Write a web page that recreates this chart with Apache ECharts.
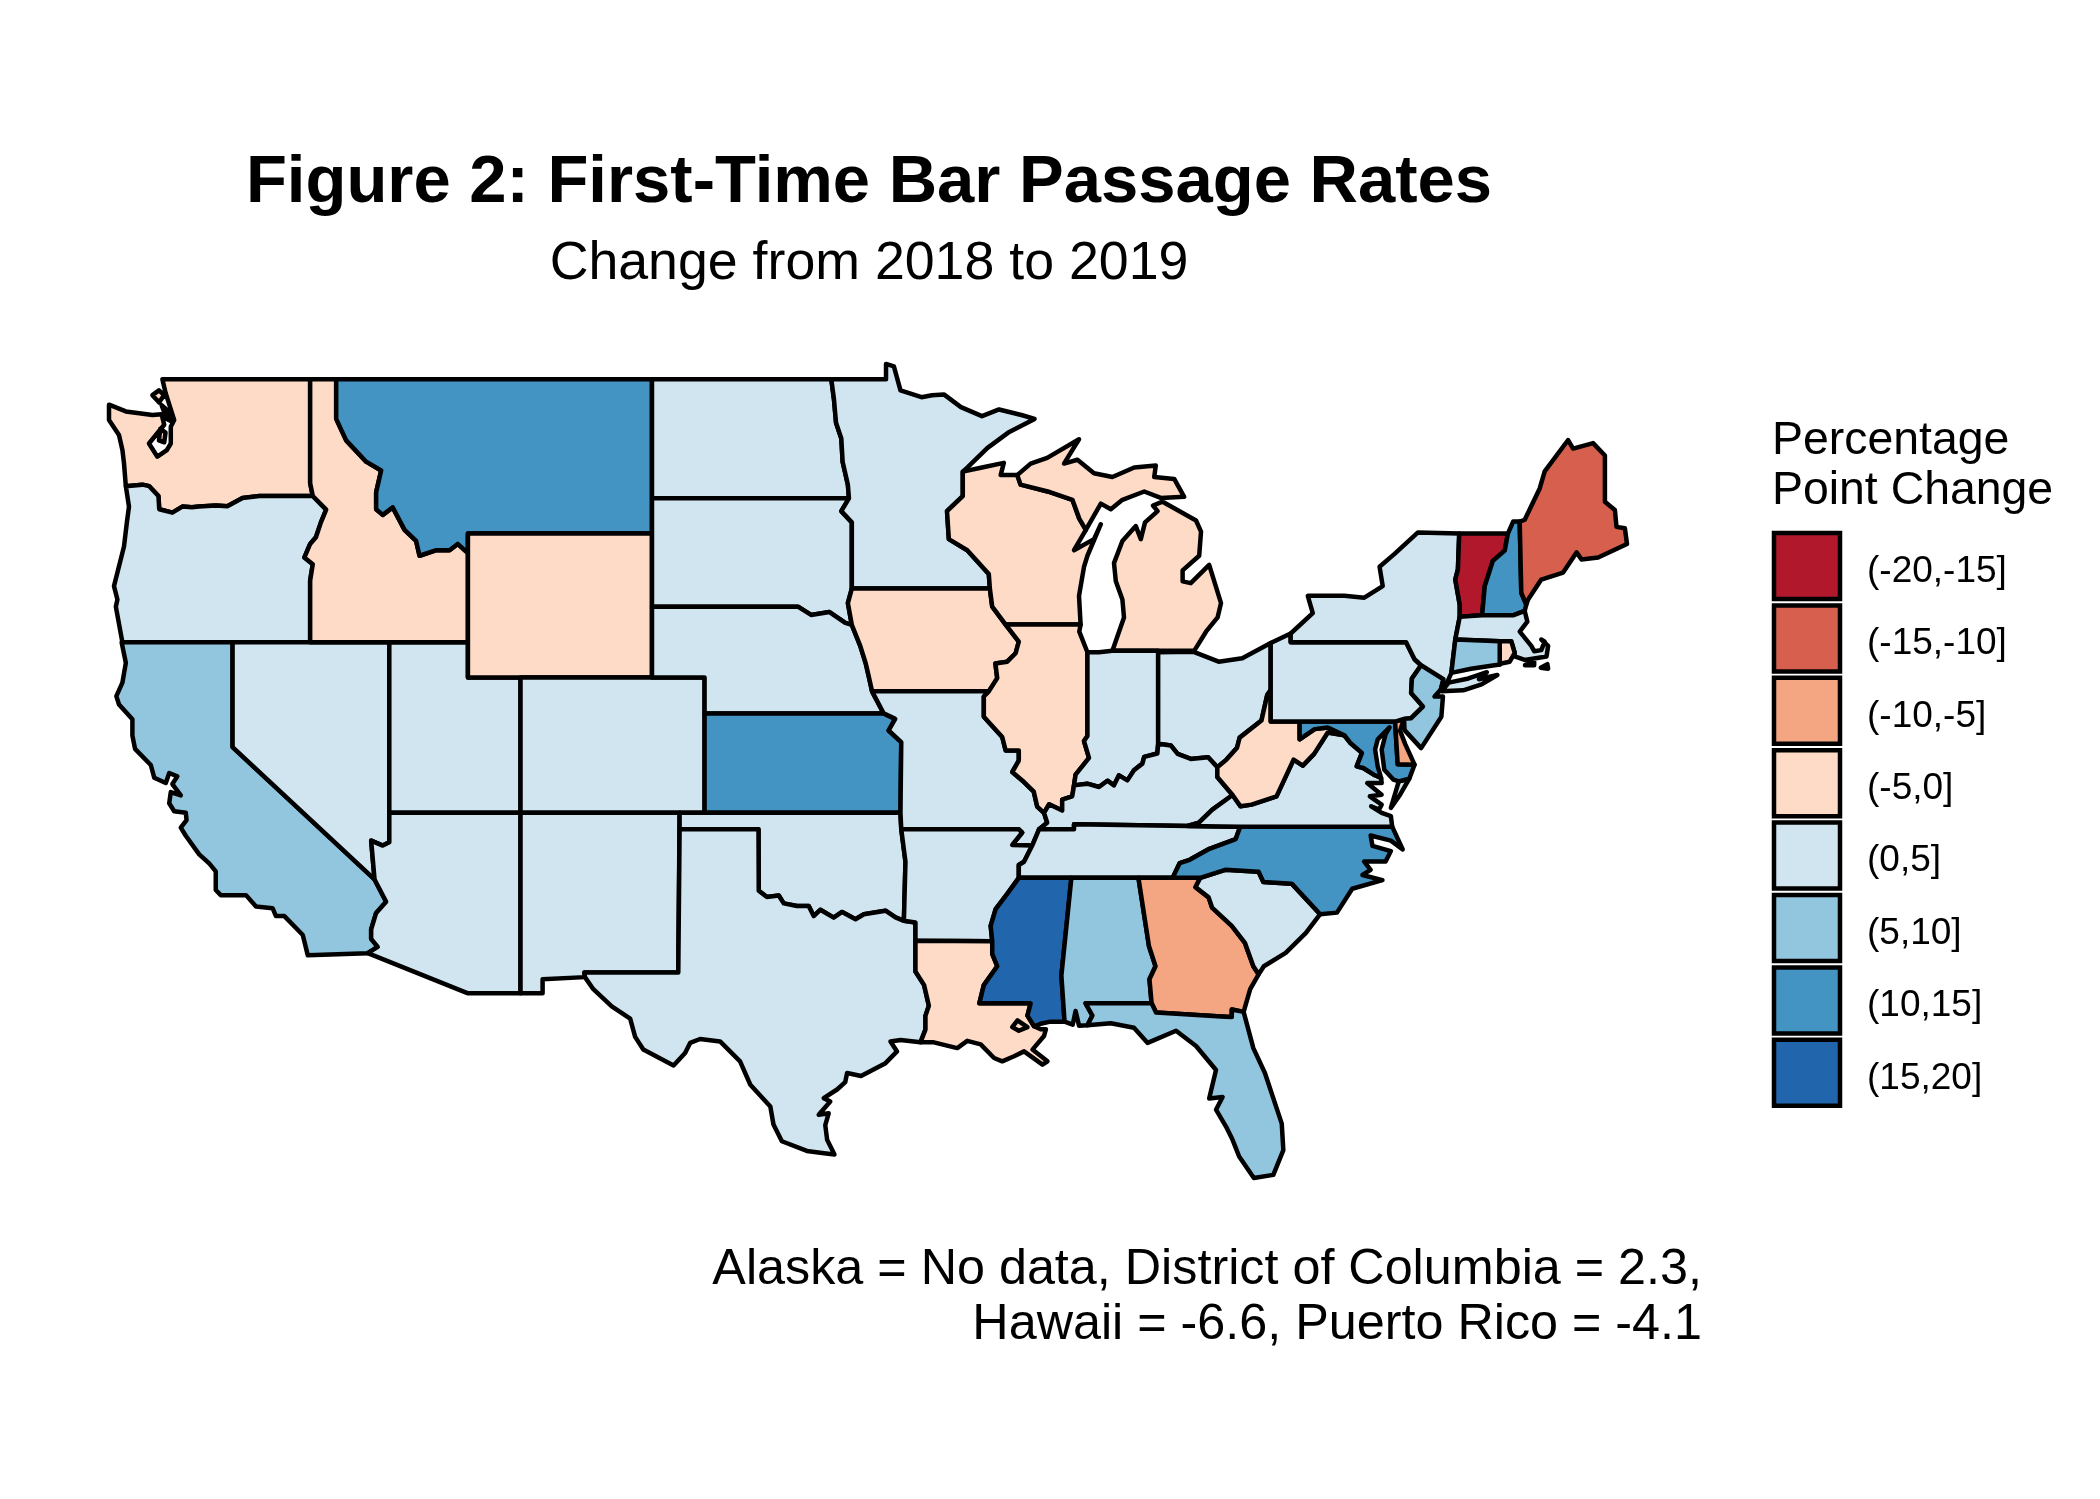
<!DOCTYPE html>
<html>
<head>
<meta charset="utf-8">
<title>First-Time Bar Passage Rates</title>
<script src="https://cdn.jsdelivr.net/npm/echarts@6/dist/echarts.min.js"></script>
<style>
  html, body { margin: 0; padding: 0; background: #fff; }
  #chart { width: 2100px; height: 1499px; }
</style>
</head>
<body>
<div id="chart"></div>
<script>
// bins, top to bottom of the legend
const binBreaks = [-20, -15, -10, -5, 0, 5, 10, 15, 20];
const binLabels = ['(-20,-15]', '(-15,-10]', '(-10,-5]', '(-5,0]', '(0,5]', '(5,10]', '(10,15]', '(15,20]'];
const binColors = ['#B2182B', '#D6604D', '#F4A582', '#FDDBC7', '#D1E5F0', '#92C5DE', '#4393C3', '#2166AC'];

const minus17 = ['Vermont'];
const minus12 = ['Maine'];
const minus7 = ['Georgia', 'Delaware'];
const minus2 = ['Washington', 'Idaho', 'Wyoming', 'Iowa', 'Wisconsin', 'Illinois', 'Michigan', 'Louisiana', 'West Virginia', 'Rhode Island'];
const plus2 = ['Oregon', 'Nevada', 'Utah', 'Colorado', 'Arizona', 'New Mexico', 'North Dakota', 'South Dakota', 'Nebraska', 'Oklahoma', 'Texas', 'Minnesota', 'Missouri', 'Arkansas', 'Indiana', 'Ohio', 'Kentucky', 'Tennessee', 'South Carolina', 'Virginia', 'Pennsylvania', 'New York', 'Massachusetts'];
const plus7 = ['California', 'Alabama', 'Florida', 'New Jersey', 'Connecticut'];
const plus12 = ['Montana', 'Kansas', 'North Carolina', 'Maryland', 'New Hampshire'];
const plus17 = ['Mississippi'];

const r = a => a.slice().reverse();

// shared borders, lon/lat
const snake = [[-117.05,46.34],[-116.95,46],[-116.44,45.64],[-116.64,45.3],[-116.83,44.9],[-117.05,44.72],[-117.27,44.35],[-116.95,44.17],[-117.05,43.72],[-117.05,42]];
const columbia = [[-116.95,46],[-118.98,46],[-119.62,45.95],[-120.2,45.73],[-120.63,45.75],[-121.27,45.72],[-121.55,45.7],[-121.91,45.72],[-122.29,45.56],[-122.79,45.65],[-122.82,46],[-123.17,46.26],[-123.43,46.3],[-124.06,46.26]];
const bitterroot = [[-116.06,48],[-115.68,47.45],[-114.92,46.9],[-114.35,46.67],[-114.54,46.1],[-114.54,45.65],[-114.29,45.5],[-113.91,45.7],[-113.46,45.1],[-113.02,44.8],[-112.89,44.4],[-112.25,44.55],[-111.75,44.55],[-111.44,44.72],[-111.05,44.47]];
const colorado = [[-114.6,34.95],[-114.16,34.25],[-114.54,33.9],[-114.73,33.38],[-114.73,33.08],[-114.48,32.82],[-114.86,32.62]];
const redRiver = [[-99.99,34.6],[-99.68,34.4],[-99.23,34.45],[-99.04,34.2],[-98.54,34.12],[-98.09,34.12],[-97.9,33.8],[-97.65,34],[-97.14,33.75],[-96.82,33.93],[-96.31,33.7],[-95.99,33.86],[-95.17,33.97],[-94.79,33.76],[-94.47,33.65]];
const ndMn = [[-97.23,49],[-97.13,48.5],[-97.05,47.9],[-96.85,47.5],[-96.8,46.9],[-96.6,46.3],[-96.56,45.94]];
const sdMn = [[-96.56,45.94],[-96.85,45.6],[-96.45,45.3],[-96.45,43.5]];
const sdIa = [[-96.45,43.5],[-96.6,43.1],[-96.45,42.49]];
const sdNe = [[-104.05,43],[-98.5,43],[-98,42.77],[-97.3,42.85],[-96.7,42.55],[-96.45,42.49]];
const neIa = [[-96.45,42.49],[-96.13,41.9],[-95.92,41.4],[-95.81,41.04],[-95.68,40.6]];
const neMo = [[-95.68,40.6],[-95.24,39.96]];
const ksMo = [[-95.24,39.96],[-94.8,39.8],[-95.05,39.46],[-94.57,39.12],[-94.6,37]];
const mnWi = [[-92.23,46],[-92.83,45.6],[-92.76,44.85],[-92.06,44.55],[-91.24,43.9],[-91.2,43.5]];
const iaWi = [[-91.2,43.5],[-91.11,43],[-90.6,42.5]];
const iaIl = [[-90.6,42.5],[-90.1,42.02],[-90.22,41.69],[-90.54,41.45],[-90.99,41.4],[-90.92,40.98],[-91.24,40.6],[-91.43,40.45]];
const moIl = [[-91.43,40.45],[-91.43,39.86],[-90.73,39.27],[-90.6,38.87],[-90.1,38.87],[-90.1,38.57],[-90.35,38.23],[-89.9,37.93],[-89.53,37.64],[-89.4,37.19],[-89.14,37]];
const moKy = [[-89.14,37],[-89.02,36.7],[-89.33,36.5]];
const moTn = [[-89.33,36.5],[-89.59,36]];
const moAr = [[-89.59,36],[-90.35,36.02],[-89.97,36.4],[-90.1,36.5],[-94.57,36.5]];
const arTn = [[-89.59,36],[-89.9,35.5],[-90.1,35.4],[-90.1,35]];
const arMs = [[-90.1,35],[-90.54,34.5],[-90.98,34.02],[-91.17,33.49],[-91.11,33]];
const laMs = [[-91.11,33],[-91.11,32.6],[-90.92,32.2],[-91.43,31.59],[-91.6,31],[-89.65,31],[-89.77,30.6],[-89.52,30.25]];
const ilKy = [[-89.14,37],[-88.95,37.26],[-88.45,37.07],[-88.45,37.4],[-88.07,37.5],[-88,37.83]];
const inKy = [[-88,37.83],[-87.5,37.88],[-87.05,37.78],[-86.73,37.97],[-86.48,37.83],[-86.29,38.13],[-85.97,37.98],[-85.72,38.28],[-85.4,38.48],[-85.33,38.68],[-84.83,38.78],[-84.8,39.07]];
const ohKy = [[-84.8,39.07],[-84.32,39.02],[-84.06,38.77],[-83.56,38.62],[-82.9,38.67],[-82.55,38.37]];
const ohWv = [[-82.55,38.37],[-82.2,38.6],[-81.8,38.95],[-81.7,39.25],[-80.87,39.75],[-80.65,40.5],[-80.52,40.64]];
const kyWv = [[-82.55,38.37],[-82.55,38.08],[-81.97,37.54]];
const kyVa = [[-81.97,37.54],[-82.75,37.09],[-83.25,36.7],[-83.68,36.6]];
const kyTn = [[-83.68,36.6],[-88,36.65],[-88,36.5],[-89.33,36.5]];
const ilIn = [[-87.49,41.72],[-87.49,39.3],[-87.62,39.15],[-87.43,38.65],[-87.94,38.15],[-88,37.83]];
const tnVa = [[-83.68,36.6],[-81.68,36.58]];
const tnNc = [[-81.68,36.58],[-81.85,36.2],[-82.85,35.9],[-83.6,35.56],[-83.98,35.46],[-84.25,35]];
const msAl = [[-88.1,35],[-88.48,31.9],[-88.36,30.4]];
const alGa = [[-85.55,35],[-85.15,32.85],[-84.9,32.2],[-85.13,31.78],[-85.05,31]];
const alFl = [[-85.05,31],[-87.56,31],[-87.3,30.6],[-87.49,30.28]];
const gaSc = [[-83.2,35],[-83.38,34.71],[-82.88,34.39],[-82.75,34.07],[-82,33.49],[-81.5,32.95],[-81.18,32.2],[-80.98,31.94]];
const gaFl = [[-85.05,31],[-84.88,30.7],[-82.25,30.56],[-82,30.55],[-82,30.8],[-81.55,30.72]];
const ncSc = [[-83.2,35],[-82.25,35.25],[-80.98,35.19],[-80.8,34.87],[-79.72,34.82],[-78.64,33.86]];
const lakeErieOh = [[-84.8,41.72],[-83.45,41.73],[-82.5,41.45],[-81.6,41.55],[-80.52,41.98]];
const paNy = [[-79.76,42.25],[-79.76,42],[-75.37,42],[-75.05,41.52],[-74.8,41.35]];
const paNj = [[-74.8,41.35],[-75.15,40.97],[-75.18,40.55],[-74.73,40.16],[-75.18,39.82],[-75.45,39.8]];
const nyNj = [[-74.8,41.35],[-73.95,40.95],[-74.05,40.65]];
const nyVt = [[-73.35,45],[-73.4,44.03],[-73.5,43.75],[-73.33,43.05],[-73.33,42.72]];
const vtNh = [[-71.5,45],[-71.62,44.54],[-72.07,44.26],[-72.38,43.57],[-72.48,42.76]];
const nhMe = [[-71.05,45.32],[-70.99,43.38],[-70.8,43.06]];
const nhMa = [[-70.86,42.88],[-71.3,42.76],[-72.48,42.76]];
const nyMa = [[-73.33,42.72],[-73.5,42.08]];
const nyCt = [[-73.5,42.08],[-73.65,41.13]];
const maCt = [[-73.5,42.08],[-71.81,42.03]];
const maRi = [[-71.81,42.03],[-71.37,42.03],[-71.24,41.7]];
const ctRi = [[-71.81,42.03],[-71.81,41.37]];
const potomac = [[-76.32,38.05],[-76.6,38.15],[-77,38.35],[-77.25,38.4],[-77.05,38.8],[-77.5,39.1],[-77.72,39.32]];
const mdWv = [[-77.72,39.32],[-78.35,39.55],[-78.85,39.5],[-79.42,39.2],[-79.42,39.72]];
const vaWv = [[-77.72,39.32],[-78.35,39.4],[-78.87,38.77],[-79.3,38.42],[-79.65,38.6],[-80.3,37.5],[-81.25,37.25],[-81.67,37.2],[-81.97,37.54]];
const wiMi = [[-90.16,46.55],[-90.03,46.3],[-89,46.12],[-88.06,45.9],[-87.8,45.4],[-87.55,45.1]];

// each state is a list of polygons, each polygon a list of border pieces
const stateShapes = {
  'Washington': [[[[-117.05,49]], snake.slice(0, 2), columbia, [[-124.13,46.86],[-124.19,47.2],[-124.32,47.59],[-124.7,47.97],[-124.7,48.36],[-124.06,48.19],[-123.05,48.1],[-122.7,48.12],[-122.6,47.85],[-123.18,47.37],[-122.86,47.03],[-122.5,47.2],[-122.35,47.37],[-122.35,47.8],[-122.22,47.97],[-122.4,48.35],[-122.55,48.66],[-122.67,49]]], [[[-122.7,48.35],[-122.45,48.2],[-122.35,47.95],[-122.5,48]]], [[[-123.05,48.6],[-122.8,48.72],[-122.6,48.6],[-122.8,48.42]]], [[[-122.75,47.75],[-122.55,47.65],[-122.6,47.4],[-122.8,47.45]]]],
  'Oregon': [[[[-116.95,46]], snake.slice(2), [[-120,42],[-124.19,42],[-124.44,43],[-124.38,43.2],[-124.51,43.57],[-124.13,44.65],[-124.02,45.3],[-123.94,45.72]], r(columbia)]],
  'California': [[[[-124.22,42],[-120,42],[-120,38.97]], colorado, [[-117.14,32.55],[-117.33,33.2],[-118.03,33.8],[-118.35,33.8],[-118.48,34.05],[-119.11,34.1],[-119.49,34.46],[-120.45,34.46],[-120.64,34.62],[-120.64,35.2],[-120.89,35.45],[-121.27,35.73],[-121.78,36.3],[-121.97,36.55],[-121.75,36.78],[-121.78,37],[-122.22,37.05],[-122.41,37.29],[-122.35,37.63],[-121.97,37.53],[-122.29,37.87],[-122.1,38.1],[-122.41,38.2],[-122.54,37.9],[-122.98,38.06],[-123.11,38.44],[-123.71,38.92],[-123.81,39.31],[-123.81,39.79],[-124.32,40.22],[-124.42,40.46],[-124.19,40.85],[-124.06,41.42]]]],
  'Nevada': [[[[-120,42],[-114.04,42],[-114.04,36.1],[-114.29,36],[-114.73,36.15],[-114.6,34.95],[-120,38.97]]]],
  'Utah': [[[[-114.04,42],[-111.05,42],[-111.05,41],[-109.05,41],[-109.05,37],[-114.04,37]]]],
  'Arizona': [[[[-114.04,37],[-109.05,37],[-109.05,31.33],[-111.07,31.33]], r(colorado), [[-114.73,36.15],[-114.29,36],[-114.04,36.1]]]],
  'Idaho': [[[[-117.05,49],[-116.06,49]], bitterroot, [[-111.05,42]], r(snake)]],
  'Montana': [[[[-116.06,49],[-104.05,49],[-104.05,45],[-111.05,45]], r(bitterroot)]],
  'Wyoming': [[[[-111.05,45],[-104.05,45],[-104.05,41],[-111.05,41]]]],
  'Colorado': [[[[-109.05,41],[-102.05,41],[-102.05,37],[-109.05,37]]]],
  'New Mexico': [[[[-109.05,37],[-103,37],[-103.05,32],[-106.62,32],[-106.6,31.85],[-108.21,31.78],[-108.21,31.33],[-109.05,31.33]]]],
  'North Dakota': [[[[-104.05,49]], ndMn, [[-104.05,45.94]]]],
  'South Dakota': [[[[-104.05,45.94]], sdMn, sdIa, r(sdNe)]],
  'Nebraska': [[sdNe, neIa, neMo, [[-102.05,39.96],[-102.05,41],[-104.05,41]]]],
  'Kansas': [[[[-102.05,39.96]], ksMo, [[-102.05,37]]]],
  'Oklahoma': [[[[-103,37],[-94.6,37],[-94.57,36.5],[-94.41,35.5]], r(redRiver), [[-100,36.5],[-103,36.5]]]],
  'Texas': [[[[-103,36.5],[-100,36.5]], redRiver, [[-94.03,33.6],[-94.03,32.03],[-93.7,31.59],[-93.52,30.92],[-93.65,30.59],[-93.65,30.14],[-93.84,29.72],[-94.6,29.8],[-94.98,29.75],[-94.73,29.42],[-95.17,29.03],[-96.1,28.6],[-96.63,28.7],[-96.7,28.4],[-97.01,28.15],[-97.52,27.86],[-97.27,27.75],[-97.71,27.3],[-97.33,27.35],[-97.46,26.95],[-97.39,26.45],[-97.11,25.95],[-97.58,26],[-98.16,26.07],[-99.11,26.4],[-99.43,26.97],[-99.55,27.58],[-100.31,28.31],[-100.7,29.09],[-101.46,29.75],[-102.22,29.83],[-102.6,29.7],[-102.79,29.37],[-103.23,28.95],[-104.38,29.48],[-104.69,29.9],[-104.88,30.5],[-105.58,30.9],[-106.28,31.46],[-106.6,31.85],[-106.62,32],[-103.05,32]]]],
  'Minnesota': [[ndMn.slice(0, 1), [[-95.15,49],[-95.15,49.38],[-94.85,49.32],[-94.6,48.72],[-93.8,48.55],[-93.4,48.6],[-92.95,48.62],[-92.3,48.3],[-91.5,48.07],[-90.85,48.24],[-90,48.1],[-89.5,48],[-90.5,47.65],[-91.3,47.25],[-92.05,46.75],[-92.23,46.64]], mnWi, [[-96.45,43.5]], r(sdMn), r(ndMn)]],
  'Iowa': [[[[-96.45,43.5]], iaWi, iaIl, [[-95.68,40.6]], r(neIa), r(sdIa)]],
  'Missouri': [[[[-95.68,40.6],[-91.24,40.6]], moIl, moKy, moTn, moAr, [[-94.6,37]], r(ksMo), r(neMo)]],
  'Arkansas': [[[[-94.57,36.5]], r(moAr), arTn, arMs, [[-94.03,33.02],[-94.03,33.6],[-94.47,33.65],[-94.41,35.5]]]],
  'Louisiana': [[laMs, [[-89.27,30.15],[-89.07,30.15],[-89.14,29.93],[-89.58,29.48],[-89.01,29.09],[-89.2,28.98],[-89.9,29.42],[-90.28,29.26],[-90.73,29.09],[-91.04,29.2],[-91.55,29.65],[-92.06,29.77],[-92.44,29.53],[-93.33,29.72],[-93.84,29.72],[-93.65,30.14],[-93.65,30.59],[-93.52,30.92],[-93.7,31.59],[-94.03,32.03],[-94.03,33.02]]]],
  'Wisconsin': [[[[-92.23,46],[-92.23,46.64],[-91.5,46.75],[-90.67,46.87],[-90.79,46.55]], wiMi, [[-88,44.55],[-87.24,44.85],[-86.98,45.25],[-87.49,44.4],[-87.62,44.1],[-87.81,43.3],[-87.75,42.5]], r(iaWi), r(mnWi)]],
  'Michigan': [[[[-90.16,46.55],[-89.65,46.85],[-89.02,47],[-87.81,47.48],[-88.38,46.85],[-87.87,46.95],[-87.24,46.6],[-86.54,46.5],[-85.71,46.75],[-84.89,46.8],[-84.95,46.5],[-84.19,46.45],[-83.81,45.98],[-84.7,45.95],[-85.33,46.12],[-86.16,45.9],[-86.6,45.65],[-86.98,45.8]], r(wiMi)], [[[-86.54,41.76],[-83.43,41.76],[-82.98,42.3],[-82.54,42.7],[-82.41,43.1],[-82.86,44.15],[-83.56,43.65],[-83.87,43.7],[-83.87,44],[-83.24,44.4],[-83.17,45.05],[-83.36,45.35],[-84.63,45.85],[-85,45.75],[-84.82,45.6],[-85.3,45.3],[-85.46,44.85],[-85.65,45.2],[-86.16,44.8],[-86.48,44.2],[-86.41,43.7],[-86.16,43.2],[-86.1,42.7]]]],
  'Illinois': [[[[-90.6,42.5],[-87.75,42.5],[-87.8,42.3],[-87.49,41.72]], ilIn.slice(1), r(ilKy), r(moIl), r(iaIl)]],
  'Indiana': [[[[-87.49,41.72],[-87.05,41.72],[-86.54,41.76],[-84.8,41.76],[-84.8,39.07]], r(inKy), r(ilIn)]],
  'Ohio': [[lakeErieOh, [[-80.52,40.64]], r(ohWv), r(ohKy)]],
  'Kentucky': [[ilKy, inKy, ohKy, kyWv, kyVa, kyTn, r(moKy)]],
  'Tennessee': [[r(kyTn), tnVa, tnNc, [[-85.55,35],[-88.1,35],[-90.1,35]], r(arTn), r(moTn)]],
  'Mississippi': [[[[-90.1,35]], msAl, [[-88.9,30.4],[-89.27,30.33],[-89.52,30.25]], r(laMs), r(arMs)]],
  'Alabama': [[msAl.slice(0, 1), alGa, alFl, [[-87.81,30.27],[-87.94,30.75],[-88.05,30.3]], r(msAl)]],
  'Georgia': [[alGa.slice(0, 1), [[-84.25,35]], gaSc, [[-81.3,31.46]], r(gaFl), r(alGa)]],
  'Florida': [[r(alFl), gaFl, [[-81.18,29.53],[-80.74,28.7],[-80.1,27],[-80.04,26.1],[-80.42,25.25],[-81.16,25.14],[-81.72,25.88],[-81.97,26.45],[-82.22,26.9],[-82.6,27.47],[-82.35,27.9],[-82.86,27.85],[-82.6,28.8],[-83.36,29.6],[-84.12,30.1],[-85.2,29.7],[-85.72,30.2],[-86.6,30.35]]]],
  'South Carolina': [[r(gaSc), ncSc, [[-79.18,33.27],[-79.95,32.63],[-80.78,32.2]]]],
  'North Carolina': [[[[-75.9,36.58],[-81.68,36.58]], tnNc, [[-83.2,35]], ncSc, [[-78,33.91],[-77.42,34.66],[-76.27,34.93],[-77.03,35.09],[-76.72,35.25],[-76.97,35.51],[-76.15,35.51],[-75.95,35.83],[-76.65,35.99],[-76.72,36.31],[-75.95,36.15],[-75.5,35.88]]]],
  'Virginia': [[kyVa, tnVa, [[-75.9,36.58],[-75.95,36.9],[-76.3,37],[-76.7,37.2],[-76.4,37.1],[-76.3,37.25],[-76.75,37.5],[-76.3,37.55],[-76.85,37.9],[-76.3,37.9]], potomac, vaWv], [[[-75.25,38.03],[-75.65,37.95],[-75.95,37.15],[-75.6,37.55]]]],
  'West Virginia': [[ohWv, [[-80.52,39.72]], r(mdWv), vaWv, r(kyWv)]],
  'Maryland': [[[[-79.42,39.72],[-75.79,39.72],[-75.69,38.46],[-75.05,38.45],[-75.25,38.03],[-75.65,37.95],[-75.85,38],[-76.2,38.3],[-76.3,38.9],[-76.15,39.35],[-76,39.55],[-76.45,39.2],[-76.55,38.9],[-76.45,38.4]], potomac, mdWv]],
  'Delaware': [[[[-75.79,39.72],[-75.45,39.8],[-75.6,39.45],[-75.4,39.05],[-75.05,38.45],[-75.69,38.46]]]],
  'Pennsylvania': [[[[-80.52,41.98]], paNy, paNj, [[-75.79,39.72],[-80.52,39.72]]]],
  'New Jersey': [[nyNj, [[-74.29,40.45],[-73.97,40.45],[-74.03,39.86],[-74.8,38.94],[-75.43,39.47]], r(paNj)]],
  'New York': [[[[-79.76,42.25],[-78.92,42.82],[-79.11,43.3],[-77.72,43.3],[-76.96,43.25],[-76.26,43.57],[-76.38,44.1],[-75.81,44.45],[-74.92,45.03]], nyVt, nyMa, nyCt, [[-73.84,40.8],[-73.95,40.75]], r(nyNj), r(paNy)], [[[-74.02,40.6],[-73.75,40.85],[-73,40.97],[-72.3,41.15],[-72.6,40.95],[-71.9,41.07],[-72.5,40.8],[-73.2,40.63]]]],
  'Vermont': [[nyVt.slice(0, 1), vtNh, nyVt.slice(-1), r(nyVt)]],
  'New Hampshire': [[vtNh.slice(0, 1), [[-71.3,45.32]], nhMe, nhMa, r(vtNh)]],
  'Maine': [[nhMe.slice(0, 1), [[-70.86,45.37],[-70.29,46.2],[-70.1,46.65],[-69.21,47.46],[-69.02,47.24],[-68.26,47.38],[-67.81,47.06],[-67.81,45.85],[-67.43,45.63],[-67.37,45.18],[-67.05,45.14],[-66.97,44.72],[-68.07,44.35],[-68.7,44.3],[-68.89,44.49],[-69.4,43.94],[-70.23,43.75],[-70.73,43.2]], r(nhMe)]],
  'Massachusetts': [[r(nyMa), r(nhMa), [[-70.76,42.58],[-71.05,42.3],[-70.61,41.9],[-70.5,41.75],[-70.23,41.78],[-70.1,42.02],[-70.23,42.08],[-69.97,41.9],[-70.03,41.6],[-70.86,41.5],[-71.24,41.6]], r(maRi), r(maCt)], [[[-70.85,41.35],[-70.5,41.45],[-70.5,41.35]]], [[[-70.25,41.28],[-70,41.38],[-69.97,41.25]]]],
  'Rhode Island': [[maRi, [[-71.43,41.45],[-71.75,41.4]], r(ctRi)]],
  'Connecticut': [[maCt, ctRi, [[-72.9,41.25]], r(nyCt)]]
};
// Lake Pontchartrain is a hole in Louisiana
const pontchartrain = [[-90.35,30.22],[-90.15,30.44],[-89.77,30.22],[-90.1,30.1]];

function toFeature(name) {
  const coordinates = stateShapes[name].map(pieces => [[].concat(...pieces)]);
  if (name === 'Louisiana') coordinates[0].push(pontchartrain);
  return { type: 'Feature', properties: { name }, geometry: { type: 'MultiPolygon', coordinates } };
}

echarts.registerMap('lower48', { type: 'FeatureCollection', features: Object.keys(stateShapes).map(toFeature) });

const stateValues = [
  [minus17, -17.5], [minus12, -12.5], [minus7, -7.5], [minus2, -2.5],
  [plus2, 2.5], [plus7, 7.5], [plus12, 12.5], [plus17, 17.5]
].flatMap(([names, value]) => names.map(name => ({ name, value })));

const swatchX = 1774, swatchY = 533, swatchSize = 66, swatchStep = 72.4;

const chart = echarts.init(document.getElementById('chart'));
chart.setOption({
  animation: false,
  backgroundColor: '#fff',
  textStyle: { fontFamily: 'Liberation Sans' },
  title: [
    { text: 'Figure 2: First-Time Bar Passage Rates', left: 864, top: 145, textAlign: 'center',
      textStyle: { fontFamily: 'Liberation Sans', fontSize: 67, fontWeight: 'bold', color: '#000' } },
    { text: 'Change from 2018 to 2019', left: 864, top: 232, textAlign: 'center',
      textStyle: { fontFamily: 'Liberation Sans', fontSize: 53.7, fontWeight: 'normal', color: '#000' } },
    { text: 'Percentage\nPoint Change', left: 1767, top: 411,
      textStyle: { fontFamily: 'Liberation Sans', fontSize: 46.4, fontWeight: 'normal', color: '#000', lineHeight: 50 } },
    { text: 'Alaska = No data, District of Columbia = 2.3,\nHawaii = -6.6, Puerto Rico = -4.1', left: 1697, top: 1238, textAlign: 'right',
      textStyle: { fontFamily: 'Liberation Sans', fontSize: 50.3, fontWeight: 'normal', color: '#000', lineHeight: 55 } }
  ],
  visualMap: {
    type: 'piecewise',
    show: false,
    pieces: binLabels.map((label, i) => ({ gt: binBreaks[i], lte: binBreaks[i + 1], color: binColors[i] }))
  },
  series: [{
    type: 'map',
    map: 'lower48',
    silent: true,
    roam: false,
    projection: {
      project: p => [p[0] * Math.PI / 180, -Math.log(Math.tan(Math.PI / 4 + p[1] * Math.PI / 360))],
      unproject: p => [p[0] * 180 / Math.PI, (2 * Math.atan(Math.exp(-p[1])) - Math.PI / 2) * 180 / Math.PI]
    },
    layoutCenter: [868, 771],
    layoutSize: 1518,
    label: { show: false },
    itemStyle: { borderColor: '#000', borderWidth: 4.5, borderJoin: 'round' },
    emphasis: { disabled: true },
    data: stateValues
  }],
  graphic: binLabels.flatMap((label, i) => [
    { type: 'rect', x: swatchX, y: swatchY + i * swatchStep, silent: true,
      shape: { width: swatchSize, height: swatchSize },
      style: { fill: binColors[i], stroke: '#000', lineWidth: 4.5 } },
    { type: 'text', x: swatchX + 93, y: swatchY + i * swatchStep + 20, silent: true,
      style: { text: label, fontFamily: 'Liberation Sans', fontSize: 37, fill: '#000' } }
  ])
});
</script>
</body>
</html>
